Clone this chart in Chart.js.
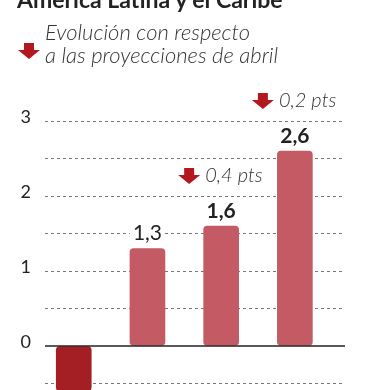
<!DOCTYPE html>
<html lang="es">
<head>
<meta charset="UTF-8">
<title>América Latina y el Caribe</title>
<script src="https://cdn.jsdelivr.net/npm/chart.js@4/dist/chart.umd.min.js"></script>
<style>
  body { margin: 0; background: #fff; }
  #wrap { position: relative; width: 367px; height: 390px; overflow: hidden; font-family: Lato, sans-serif; color: #222; }
  #title { position: absolute; left: 17px; top: -13px; font-size: 23px; font-weight: 700; line-height: 25px; white-space: nowrap; }
  #sub { position: absolute; left: 45px; top: 20px; font-size: 22px; font-style: italic; font-weight: 300; line-height: 23px; color: #333; }
  #subArrow { position: absolute; left: 18px; top: 43px; }
  #chart { position: absolute; left: 0; top: 0; }
</style>
</head>
<body>
<div id="wrap">
  <canvas id="chart" width="367" height="396"></canvas>
  <div id="title">América Latina y el Caribe</div>
  <svg id="subArrow" width="22" height="16"><polygon points="6,0 16,0 16,7 22,7 11,16 0,7 6,7" fill="#b3181e"/></svg>
  <div id="sub">Evolución con respecto<br>a las proyecciones de abril</div>
</div>
<script>
  // crecimiento del PIB (%), América Latina y el Caribe
  const years = ['2016', '2017', '2018', '2019'];
  const growth = [-0.6, 1.3, 1.6, 2.6];
  const isProjection = [false, false, true, true];
  const revision = [null, null, '0,4 pts', '0,2 pts'];
  const yTicks = [-0.5, 0, 0.5, 1, 1.5, 2, 2.5, 3];

  const fmt = v => String(v).replace('.', ',');

  function drawArrow(ctx, cx, cy) {
    ctx.beginPath();
    ctx.moveTo(cx - 5, cy - 8);
    ctx.lineTo(cx + 5, cy - 8);
    ctx.lineTo(cx + 5, cy - 1);
    ctx.lineTo(cx + 11, cy - 1);
    ctx.lineTo(cx, cy + 8);
    ctx.lineTo(cx - 11, cy - 1);
    ctx.lineTo(cx - 5, cy - 1);
    ctx.closePath();
    ctx.fillStyle = '#b3181e';
    ctx.fill();
  }

  const labelsPlugin = {
    id: 'labels',
    afterDatasetsDraw(chart) {
      const ctx = chart.ctx;
      const y = chart.scales.y;
      const area = chart.chartArea;
      // linea del cero
      ctx.save();
      ctx.strokeStyle = '#222';
      ctx.lineWidth = 1.5;
      ctx.beginPath();
      ctx.moveTo(area.left, y.getPixelForValue(0));
      ctx.lineTo(area.right, y.getPixelForValue(0));
      ctx.stroke();

      const meta = chart.getDatasetMeta(0);
      meta.data.forEach((bar, i) => {
        const v = growth[i];
        const top = y.getPixelForValue(v);
        const ly = v >= 0 ? top - 15 : top + 15;
        ctx.font = (isProjection[i] ? '700 ' : '400 ') + '21px Lato';
        ctx.textAlign = 'center';
        ctx.textBaseline = 'middle';
        const txt = fmt(v);
        const w = ctx.measureText(txt).width;
        ctx.fillStyle = '#fff';
        ctx.fillRect(bar.x - w / 2 - 3, ly - 10, w + 6, 20);
        ctx.fillStyle = '#222';
        ctx.fillText(txt, bar.x, ly);

        if (revision[i]) {
          const ay = top - 50;
          drawArrow(ctx, bar.x - 32, ay);
          ctx.font = 'italic 300 20px Lato';
          ctx.textAlign = 'left';
          ctx.fillStyle = '#333';
          ctx.fillText(revision[i], bar.x - 16, ay);
        }
      });
      ctx.restore();
    }
  };

  new Chart(document.getElementById('chart'), {
    type: 'bar',
    data: {
      labels: years,
      datasets: [{
        data: growth.map((v, i) => ({ x: i, y: v })),
        backgroundColor: growth.map(v => v < 0 ? '#a41f24' : '#c45a64'),
        borderRadius: 4,
        borderSkipped: false,
        barThickness: 35
      }]
    },
    options: {
      responsive: false,
      animation: false,
      layout: { padding: { top: 91, right: 22, bottom: 5, left: 0 } },
      plugins: { legend: { display: false }, tooltip: { enabled: false } },
      scales: {
        x: {
          type: 'linear',
          offset: false,
          min: -0.39,
          max: 3.68,
          display: false
        },
        y: {
          min: -0.6,
          max: 3.4,
          afterBuildTicks: s => { s.ticks = yTicks.map(v => ({ value: v })); },
          afterFit: s => { s.width = 45; s.paddingTop = 0; s.paddingBottom = 0; },
          border: { display: false, dash: [3, 3] },
          grid: {
            color: c => c.tick && c.tick.value === 0 ? 'rgba(0,0,0,0)' : '#777',
            lineWidth: 1,
            drawTicks: false
          },
          ticks: {
            padding: 14,
            labelOffset: -4,
            color: '#222',
            font: { family: 'Lato', size: 18 },
            callback: v => Number.isInteger(v) && v >= 0 ? String(v) : ''
          }
        }
      }
    },
    plugins: [labelsPlugin]
  });
</script>
</body>
</html>
